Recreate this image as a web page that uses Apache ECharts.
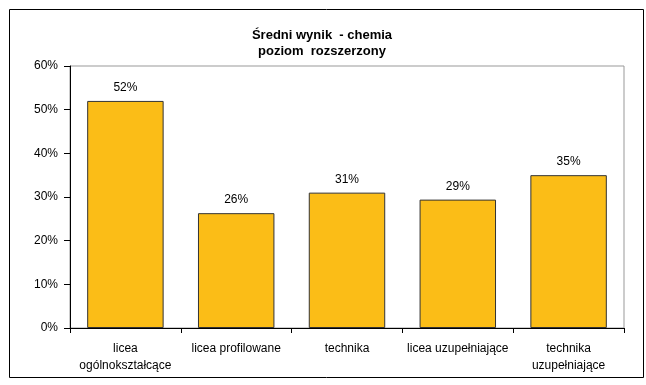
<!DOCTYPE html>
<html><head><meta charset="utf-8">
<script src="https://cdn.jsdelivr.net/npm/echarts@6/dist/echarts.min.js"></script>
<style>html,body{margin:0;padding:0;background:#fff}#c{width:646px;height:385px}</style>
</head><body><div id="c"></div>
<script>
const categories = ['licea\nogólnokształcące', 'licea profilowane', 'technika', 'licea uzupełniające', 'technika\nuzupełniające'];
const values = [0.52, 0.263, 0.31, 0.294, 0.35];
const titleLines = ['Średni wynik  - chemia', 'poziom  rozszerzony'];

const chart = echarts.init(document.getElementById('c'));
chart.setOption({
  animation: false,
  textStyle: { fontFamily: 'Liberation Sans, Arial, sans-serif' },
  title: {
    text: titleLines.join('\n'),
    left: 317, top: 22, textAlign: 'center',
    textStyle: { fontSize: 13, fontWeight: 'bold', color: '#000', lineHeight: 16, fontFamily: 'Liberation Sans, Arial, sans-serif' }
  },
  graphic: [{
    type: 'rect', shape: { x: 9.5, y: 9.5, width: 634, height: 368 },
    style: { fill: 'none', stroke: '#000', lineWidth: 1 }, silent: true, z: -1
  }],
  grid: { left: 70, top: 66, width: 554, height: 262, show: true, borderColor: '#999', borderWidth: 1, backgroundColor: '#fff' },
  xAxis: {
    type: 'category', data: categories,
    axisLine: { lineStyle: { color: '#000', width: 1 } },
    axisTick: { show: true, length: 5, lineStyle: { color: '#000' } },
    axisLabel: { color: '#000', fontSize: 12, margin: 12, lineHeight: 17, interval: 0 }
  },
  yAxis: {
    type: 'value', min: 0, max: 0.6, interval: 0.1,
    axisLine: { show: true, lineStyle: { color: '#000', width: 1 } },
    axisTick: { show: true, length: 6, lineStyle: { color: '#000' } },
    splitLine: { show: false },
    axisLabel: { color: '#000', fontSize: 12, margin: 12, formatter: v => Math.round(v * 100) + '%' }
  },
  series: [{
    type: 'bar', data: values, barCategoryGap: '31%',
    itemStyle: { color: '#FBBD17', borderColor: '#333', borderWidth: 1 },
    label: { show: true, position: 'top', distance: 7, color: '#000', fontSize: 12,
      formatter: p => Math.round(p.value * 100) + '%' }
  }]
});
</script></body></html>
